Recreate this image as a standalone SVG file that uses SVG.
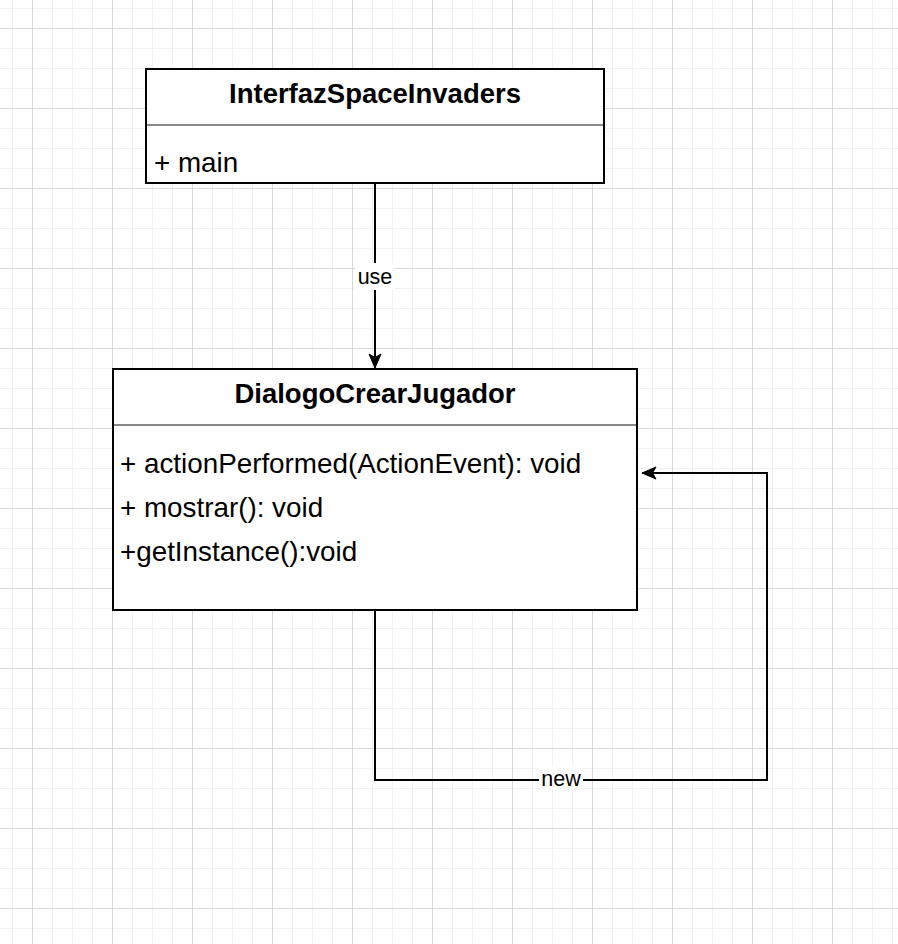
<svg xmlns="http://www.w3.org/2000/svg" width="898" height="944" viewBox="0 0 898 944">
  <defs>
    <pattern id="gridMinor" x="12" y="8" width="20" height="20" patternUnits="userSpaceOnUse">
      <path d="M 0 0.5 H 20 M 0.5 0 V 20" fill="none" stroke="#f2f2f2" stroke-width="1"/>
    </pattern>
    <pattern id="gridMajor" x="32" y="28" width="80" height="80" patternUnits="userSpaceOnUse">
      <path d="M 0 0.5 H 80 M 0.5 0 V 80" fill="none" stroke="#d8d8d8" stroke-width="1"/>
    </pattern>
    <marker id="arrow" viewBox="0 0 16 14" refX="15" refY="7" markerWidth="16" markerHeight="14" markerUnits="userSpaceOnUse" orient="auto">
      <path d="M 1 1 L 15 7 L 1 13 L 4.5 7 Z" fill="#000" stroke="#000" stroke-width="1"/>
    </marker>
    <style>
      .box { fill: #fff; stroke: #000; stroke-width: 2; }
      .divider { stroke: #8a8a8a; stroke-width: 2; }
      .title { font-family: "Liberation Sans", Arial, sans-serif; font-weight: bold; font-size: 27.5px; fill: #000; text-anchor: middle; }
      .member { font-family: "Liberation Sans", Arial, sans-serif; font-size: 27.8px; fill: #000; }
      .edge { fill: none; stroke: #000; stroke-width: 2; }
      .label { font-family: "Liberation Sans", Arial, sans-serif; font-size: 21.5px; fill: #000; text-anchor: middle; }
      .labelBg { fill: #fff; }
    </style>
  </defs>

  <!-- background grid -->
  <rect width="898" height="944" fill="#fff"/>
  <rect width="898" height="944" fill="url(#gridMinor)"/>
  <rect width="898" height="944" fill="url(#gridMajor)"/>

  <!-- connectors -->
  <g id="connectors">
    <g id="edge-use">
      <path class="edge" d="M 375 183 V 368" marker-end="url(#arrow)"/>
      <rect class="labelBg" x="355" y="263" width="40" height="27"/>
      <text class="label" x="375" y="284">use</text>
    </g>
    <g id="edge-new">
      <path class="edge" d="M 375 610 V 780 H 767 V 473 H 642" marker-end="url(#arrow)"/>
      <rect class="labelBg" x="539" y="766" width="44" height="24"/>
      <text class="label" x="561" y="786">new</text>
    </g>
  </g>

  <!-- class InterfazSpaceInvaders -->
  <g id="node-interfaz">
    <rect class="box" x="146" y="69" width="458" height="114"/>
    <line class="divider" x1="147" y1="125" x2="603" y2="125"/>
    <text class="title" x="375" y="103">InterfazSpaceInvaders</text>
    <text class="member" x="154" y="172">+ main</text>
  </g>

  <!-- class DialogoCrearJugador -->
  <g id="node-dialogo">
    <rect class="box" x="113" y="369" width="524" height="241"/>
    <line class="divider" x1="114" y1="425" x2="636" y2="425"/>
    <text class="title" x="375" y="403">DialogoCrearJugador</text>
    <text class="member" x="120" y="473">+ actionPerformed(ActionEvent): void</text>
    <text class="member" x="120" y="517">+ mostrar(): void</text>
    <text class="member" x="120" y="561">+getInstance():void</text>
  </g>
</svg>
